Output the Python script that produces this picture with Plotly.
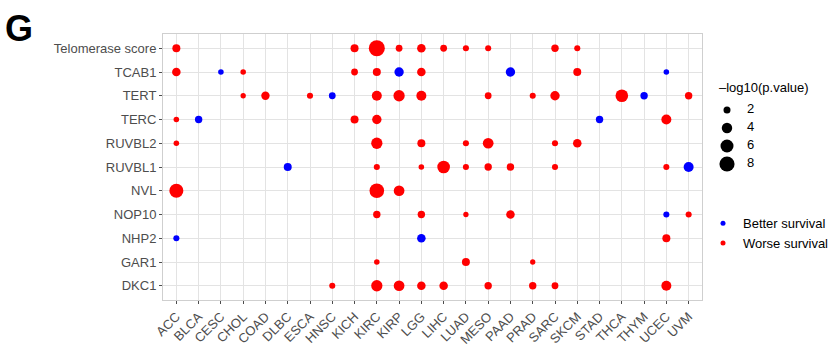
import plotly.graph_objects as go
import math

genes = ["Telomerase score", "TCAB1", "TERT", "TERC", "RUVBL2", "RUVBL1",
         "NVL", "NOP10", "NHP2", "GAR1", "DKC1"]
cancers = ["ACC", "BLCA", "CESC", "CHOL", "COAD", "DLBC", "ESCA", "HNSC", "KICH",
           "KIRC", "KIRP", "LGG", "LIHC", "LUAD", "MESO", "PAAD", "PRAD", "SARC",
           "SKCM", "STAD", "THCA", "THYM", "UCEC", "UVM"]

# points: gene, cancer, -log10(p), direction (B = better survival, W = worse survival)
pt_gene = (["Telomerase score"] * 10 + ["TCAB1"] * 10 + ["TERT"] * 13 + ["TERC"] * 6 +
           ["RUVBL2"] * 7 + ["RUVBL1"] * 10 + ["NVL"] * 3 + ["NOP10"] * 6 +
           ["NHP2"] * 3 + ["GAR1"] * 3 + ["DKC1"] * 9)
pt_cancer = [
    "ACC", "KICH", "KIRC", "KIRP", "LGG", "LIHC", "LUAD", "MESO", "SARC", "SKCM",
    "ACC", "CESC", "CHOL", "KICH", "KIRC", "KIRP", "LGG", "PAAD", "SKCM", "UCEC",
    "CHOL", "COAD", "ESCA", "HNSC", "KIRC", "KIRP", "LGG", "MESO", "PRAD", "SARC", "THCA", "THYM", "UVM",
    "ACC", "BLCA", "KICH", "KIRC", "STAD", "UCEC",
    "ACC", "KIRC", "LGG", "LUAD", "MESO", "SARC", "SKCM",
    "DLBC", "KIRC", "LGG", "LIHC", "LUAD", "MESO", "PAAD", "SARC", "UCEC", "UVM",
    "ACC", "KIRC", "KIRP",
    "KIRC", "LGG", "LUAD", "PAAD", "UCEC", "UVM",
    "ACC", "LGG", "UCEC",
    "KIRC", "LUAD", "PRAD",
    "HNSC", "KIRC", "KIRP", "LGG", "LIHC", "MESO", "PRAD", "SARC", "UCEC",
]
pt_logp = [
    2.5, 2.5, 8.9, 1.9, 2.8, 1.9, 1.6, 1.6, 2.2, 1.6,
    2.8, 1.4, 1.4, 1.9, 2.5, 3.3, 2.8, 3.3, 2.5, 1.4,
    1.3, 2.7, 1.6, 1.9, 3.7, 4.6, 3.7, 1.9, 1.6, 3.3, 5.7, 2.2, 2.2,
    1.4, 2.2, 2.5, 3.3, 2.2, 3.7,
    1.4, 4.6, 2.5, 1.6, 4.2, 1.6, 2.8,
    2.5, 1.6, 1.4, 5.7, 1.6, 2.2, 2.2, 1.6, 1.6, 3.7,
    6.9, 7.5, 4.2,
    2.2, 2.2, 1.3, 2.8, 1.6, 1.6,
    1.6, 2.8, 2.5,
    1.4, 2.5, 1.3,
    1.6, 4.6, 4.2, 2.8, 2.8, 2.2, 2.2, 1.9, 3.7,
]
pt_dir = [
    "W", "W", "W", "W", "W", "W", "W", "W", "W", "W",
    "W", "B", "W", "W", "W", "B", "W", "B", "W", "B",
    "W", "W", "W", "B", "W", "W", "W", "W", "W", "W", "W", "B", "W",
    "W", "B", "W", "W", "B", "W",
    "W", "W", "W", "W", "W", "W", "W",
    "B", "W", "W", "W", "W", "W", "W", "W", "W", "B",
    "W", "W", "W",
    "W", "W", "W", "W", "B", "W",
    "B", "B", "W",
    "W", "W", "W",
    "W", "W", "W", "W", "W", "W", "W", "W", "W",
]
legend_sizes = [2, 4, 6, 8]
dir_labels = {"B": "Better survival", "W": "Worse survival"}
dir_colors = {"B": "#0000FF", "W": "#FF0000"}


def size_of(v):
    return math.sqrt(30 * (v - 2) + 49)


font_family = "Liberation Sans, Arial, sans-serif"
W_PAPER = 838 - 163          # paper width (left margin 163, right margin 0)
H_PAPER = 266                # paper height (top 34, bottom 52)
MAIN_W = 539                 # panel width in px
def px_x(p):                 # page px -> paper x
    return (p - 163) / W_PAPER
def px_y(p):                 # page px -> paper y
    return (300 - p) / H_PAPER


fig = go.Figure()
for d in ["B", "W"]:
    idx = [i for i in range(len(pt_dir)) if pt_dir[i] == d]
    fig.add_trace(go.Scatter(
        x=[pt_cancer[i] for i in idx],
        y=[pt_gene[i] for i in idx],
        mode="markers",
        marker=dict(color=dir_colors[d], size=[size_of(pt_logp[i]) for i in idx],
                    opacity=1, line=dict(width=0)),
        opacity=1, showlegend=False,
        hovertemplate="%{x}, %{y}<extra></extra>",
    ))

# size legend keys, drawn in a small auxiliary axis pair
size_labels = [str(s) for s in legend_sizes]
fig.add_trace(go.Scatter(
    x=[0] * len(legend_sizes), y=size_labels, mode="markers",
    marker=dict(color="black", size=[size_of(s) for s in legend_sizes], opacity=1,
                line=dict(width=0)),
    xaxis="x2", yaxis="y2", showlegend=False, hoverinfo="skip",
))
fig.add_trace(go.Scatter(
    x=[1] * len(legend_sizes), y=size_labels, mode="text", text=size_labels,
    textposition="middle right", textfont=dict(size=13, color="black"),
    xaxis="x2", yaxis="y2", showlegend=False, hoverinfo="skip",
))

for d in ["B", "W"]:
    fig.add_trace(go.Scatter(
        x=[None], y=[None], mode="markers",
        marker=dict(color=dir_colors[d], size=5, opacity=1, line=dict(width=0)),
        name=dir_labels[d], legend="legend",
    ))

fig.update_layout(
    width=838, height=352,
    margin=dict(l=163, r=0, t=34, b=52, autoexpand=False),
    plot_bgcolor="white", paper_bgcolor="white",
    font=dict(family=font_family, size=13, color="black"),
    xaxis=dict(
        domain=[0, MAIN_W / W_PAPER],
        type="category", categoryorder="array", categoryarray=cancers,
        range=[-0.6, len(cancers) - 0.4],
        showgrid=True, gridcolor="#E3E3E3", gridwidth=1,
        showline=True, mirror=True, linecolor="#CFCFCF", linewidth=1,
        ticks="outside", ticklen=3, tickcolor="#4D4D4D",
        tickangle=-45, tickfont=dict(size=13, color="#4D4D4D"),
        zeroline=False, fixedrange=True, automargin=False,
    ),
    yaxis=dict(
        domain=[0, 1],
        type="category", categoryorder="array", categoryarray=genes[::-1],
        range=[-0.6, len(genes) - 0.4],
        showgrid=True, gridcolor="#E3E3E3", gridwidth=1,
        showline=True, mirror=True, linecolor="#CFCFCF", linewidth=1,
        ticks="outside", ticklen=3, tickcolor="#4D4D4D",
        tickfont=dict(size=13, color="#4D4D4D"),
        zeroline=False, fixedrange=True, automargin=False,
    ),
    # auxiliary axes for the size legend: 20px per x unit, 18px per row
    xaxis2=dict(
        domain=[px_x(710), px_x(838)], anchor="y2",
        range=[-17 / 20, (838 - 727) / 20 - 0.0],
        visible=False, fixedrange=True,
    ),
    yaxis2=dict(
        domain=[px_y(173), px_y(101)], anchor="x2",
        type="category", categoryorder="array", categoryarray=size_labels[::-1],
        range=[-0.5, len(legend_sizes) - 0.5],
        visible=False, fixedrange=True,
    ),
    legend=dict(
        x=px_x(703), y=0.345, xanchor="left", yanchor="top",
        itemsizing="trace", font=dict(size=13),
        bgcolor="rgba(0,0,0,0)",
    ),
    annotations=[
        dict(
            text="<b>G</b>", xref="paper", yref="paper",
            x=px_x(3), y=px_y(6), xanchor="left", yanchor="top",
            showarrow=False, font=dict(size=36, color="black", family=font_family),
        ),
        dict(
            text="\u2013log10(p.value)", xref="paper", yref="paper",
            x=px_x(717), y=px_y(87), xanchor="left", yanchor="middle",
            showarrow=False, font=dict(size=13, color="black", family=font_family),
        ),
    ],
)

fig.write_html("out.html")
